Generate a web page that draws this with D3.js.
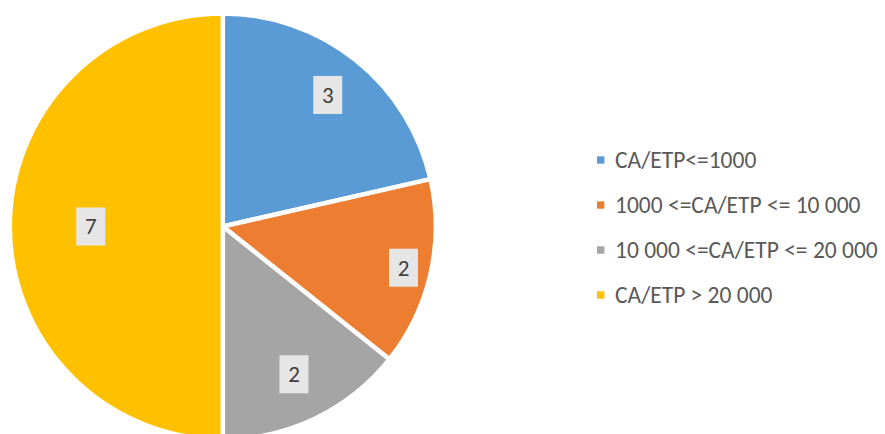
<!DOCTYPE html>
<html>
<head>
<meta charset="utf-8">
<script src="https://cdn.jsdelivr.net/npm/d3@7"></script>
<style>
  html, body { margin: 0; padding: 0; background: #fff; }
  svg { display: block; }
</style>
</head>
<body>
<svg id="chart" width="885" height="434"></svg>
<script>
const categories = ["CA/ETP<=1000", "1000 <=CA/ETP <= 10 000", "10 000 <=CA/ETP <= 20 000", "CA/ETP > 20 000"];
const values = [3, 2, 2, 7];
const colors = ["#5b9bd5", "#ed7d31", "#a5a5a5", "#ffc000"];
// label placement as fraction of radius (layout only)
const labelRadiusFrac = [0.79, 0.87, 0.77, 0.62];

const svg = d3.select("#chart");
const cx = 222.8, cy = 226.5, r = 213;

const data = categories.map((c, i) => ({ cat: c, value: values[i], color: colors[i], lf: labelRadiusFrac[i] }));

const pie = d3.pie().value(d => d.value).sort(null);
const arcs = pie(data);
const arc = d3.arc().innerRadius(0).outerRadius(r);

const g = svg.append("g").attr("transform", `translate(${cx},${cy})`);

g.selectAll("path.slice")
  .data(arcs)
  .join("path")
  .attr("class", "slice")
  .attr("d", arc)
  .attr("fill", d => d.data.color)
  .attr("stroke", "#ffffff")
  .attr("stroke-width", 4.5)
  .attr("stroke-linejoin", "round");

const fontFam = "Carlito, 'Liberation Sans', Arial, sans-serif";

const labels = g.selectAll("g.lbl")
  .data(arcs)
  .join("g")
  .attr("class", "lbl")
  .attr("transform", d => {
    const a = (d.startAngle + d.endAngle) / 2;
    const rr = r * d.data.lf;
    return `translate(${Math.sin(a) * rr},${-Math.cos(a) * rr})`;
  });

labels.append("rect")
  .attr("x", -14.5).attr("y", -19)
  .attr("width", 29).attr("height", 38)
  .attr("fill", "#e7e6e6");

labels.append("text")
  .attr("text-anchor", "middle")
  .attr("dy", "0.34em")
  .attr("font-family", fontFam)
  .attr("font-size", 23)
  .attr("fill", "#404040")
  .text(d => d.data.value);

// legend
const legend = svg.append("g").attr("transform", "translate(597,160)");
const rowH = 45;
const items = legend.selectAll("g.item")
  .data(data)
  .join("g")
  .attr("class", "item")
  .attr("transform", (d, i) => `translate(0,${i * rowH})`);

items.append("rect")
  .attr("x", 0).attr("y", -3.7)
  .attr("width", 7.4).attr("height", 7.4)
  .attr("fill", d => d.color);

items.append("text")
  .attr("x", 18)
  .attr("dy", "0.34em")
  .attr("font-family", fontFam)
  .attr("font-size", 23.5)
  .attr("fill", "#595959")
  .text(d => d.cat);
</script>
</body>
</html>
